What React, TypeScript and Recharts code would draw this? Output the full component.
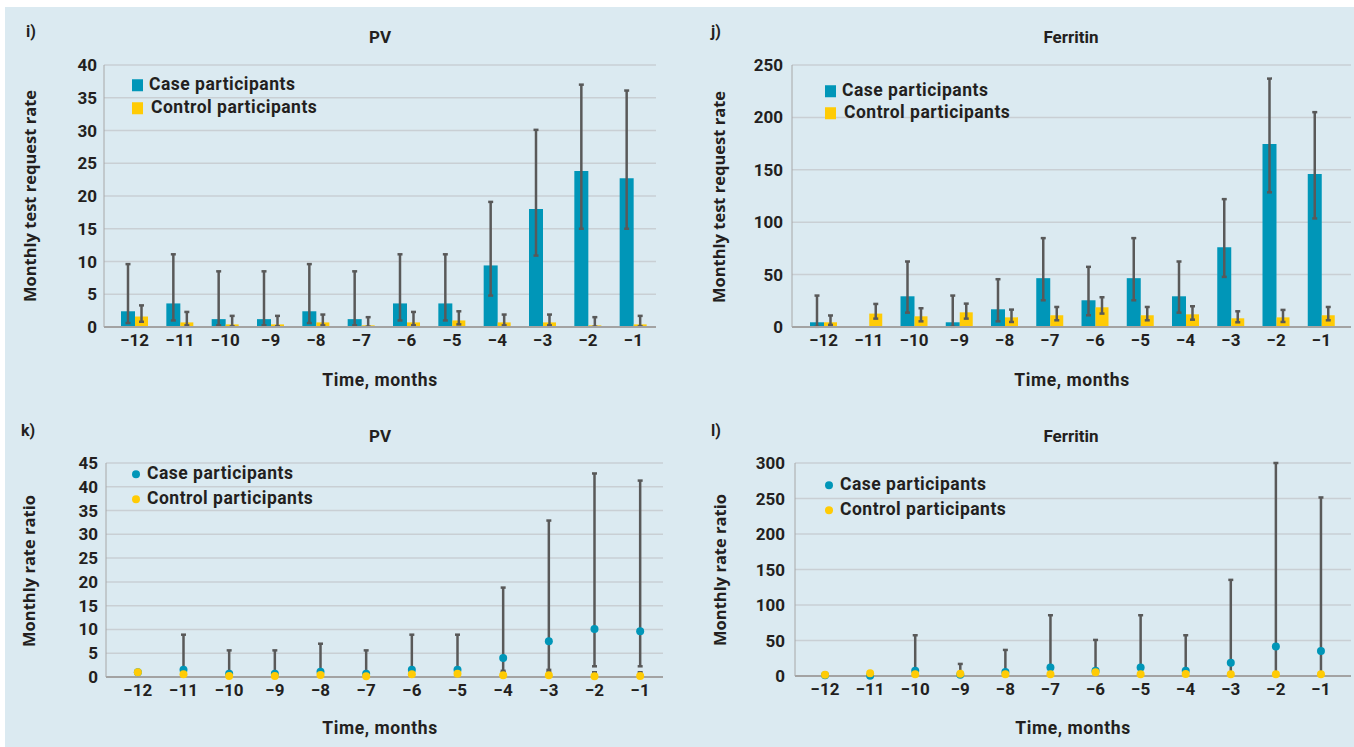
import React from 'react';
import { BarChart, Bar, ComposedChart, Line, XAxis, YAxis, CartesianGrid, ErrorBar } from 'recharts';

// months before diagnosis
const months = ['−12', '−11', '−10', '−9', '−8', '−7', '−6', '−5', '−4', '−3', '−2', '−1'];

// i) PV monthly test request rate
const pvRateCase = [2.4, 3.6, 1.2, 1.2, 2.4, 1.2, 3.6, 3.6, 9.4, 18.0, 23.8, 22.7];
const pvRateCaseLow = [0.6, 1.0, 0.25, 0.25, 0.6, 0.25, 1.0, 1.0, 4.8, 10.9, 15.0, 15.0];
const pvRateCaseHigh = [9.6, 11.1, 8.5, 8.5, 9.6, 8.5, 11.1, 11.1, 19.1, 30.1, 37.0, 36.1];
const pvRateControl = [1.6, 0.7, 0.4, 0.4, 0.7, 0.25, 0.7, 1.0, 0.7, 0.7, 0.25, 0.4];
const pvRateControlLow = [0.8, 0.25, 0.1, 0.1, 0.25, 0.05, 0.25, 0.4, 0.25, 0.25, 0.05, 0.1];
const pvRateControlHigh = [3.3, 2.3, 1.7, 1.7, 1.9, 1.5, 2.3, 2.4, 1.9, 1.9, 1.5, 1.7];

// j) Ferritin monthly test request rate
const ferRateCase = [4.5, 0, 29.3, 4.5, 16.9, 46.6, 25.5, 46.6, 29.3, 76.2, 174.7, 146];
const ferRateCaseLow = [0.2, null, 13.7, 0.2, 5.4, 25.5, 11.2, 25.5, 13.7, 47.8, 128.5, 103.6];
const ferRateCaseHigh = [30, null, 62.5, 30, 45.6, 84.8, 57.4, 84.8, 62.5, 122, 237, 205];
const ferRateControl = [4.5, 12.8, 10.2, 14, 9.2, 11.2, 18.8, 11.2, 12.1, 8.3, 9.2, 11.2];
const ferRateControlLow = [2, 8, 5.4, 8, 4.8, 6.4, 12.8, 6.4, 7, 4.5, 4.8, 6.4];
const ferRateControlHigh = [11, 22, 17.9, 22.3, 16.6, 19.1, 28.4, 19.1, 19.8, 15, 16.3, 19.1];

// k) PV monthly rate ratio
const pvRatioCase = [1.0, 1.55, 0.7, 0.7, 1.1, 0.7, 1.55, 1.55, 4.0, 7.5, 10.1, 9.6];
const pvRatioCaseLow = [null, 0.3, 0.1, 0.1, 0.2, 0.1, 0.3, 0.3, 1.3, 1.5, 2.25, 2.25];
const pvRatioCaseHigh = [null, 8.9, 5.6, 5.6, 7.0, 5.6, 8.9, 8.9, 18.8, 32.9, 42.8, 41.3];
const pvRatioControl = [1.0, 0.56, 0.2, 0.2, 0.4, 0.15, 0.56, 0.7, 0.35, 0.35, 0.15, 0.2];
const pvRatioControlLow = [null, 0.1, 0.05, 0.05, 0.1, 0.03, 0.1, 0.2, 0.1, 0.1, 0.03, 0.05];
const pvRatioControlHigh = [null, 1.2, 0.8, 0.8, 1.0, 0.7, 1.2, 1.4, 1.0, 1.0, 1.0, 1.0];

// l) Ferritin monthly rate ratio
const ferRatioCase = [1.0, 0.3, 7.5, 1.9, 5.6, 11.8, 7.5, 11.8, 7.5, 18.8, 41.4, 35.3];
const ferRatioCaseLow = [null, null, 0.5, 0.3, 0.5, 1.0, 0.8, 1.0, 0.8, 1.5, 4, 3];
const ferRatioCaseHigh = [null, null, 57.4, 17, 36.7, 85.6, 50.8, 85.6, 57.4, 135.4, 300, 251.5];
const ferRatioControl = [1.9, 3.8, 2.4, 3.3, 2.4, 2.4, 5.2, 2.4, 2.8, 2.4, 2.4, 2.4];

const ticksI = [0, 5, 10, 15, 20, 25, 30, 35, 40];
const ticksJ = [0, 50, 100, 150, 200, 250];
const ticksK = [0, 5, 10, 15, 20, 25, 30, 35, 40, 45];
const ticksL = [0, 50, 100, 150, 200, 250, 300];

const TEAL = '#0096b8';
const YELLOW = '#ffcb05';
const ERR = '#595959';
const BG = '#dbeaf1';
const GRID = '#c9cfd4';
const TEXT = '#231f20';
const FONT = 'Roboto, "DejaVu Sans", sans-serif';
const TITLE_FONT = '"Open Sans", "DejaVu Sans", sans-serif';

const err = (v: number, lo: number | null, hi: number | null) =>
  lo == null || hi == null ? null : [v - lo, hi - v];

function build(c: number[], cLo: (number | null)[], cHi: (number | null)[], k: number[], kLo?: (number | null)[], kHi?: (number | null)[]) {
  return months.map((m, i) => ({
    month: m,
    case: c[i],
    control: k[i],
    caseErr: err(c[i], cLo[i], cHi[i]),
    controlErr: kLo && kHi ? err(k[i], kLo[i], kHi[i]) : null,
  }));
}

const dataI = build(pvRateCase, pvRateCaseLow, pvRateCaseHigh, pvRateControl, pvRateControlLow, pvRateControlHigh);
const dataJ = build(ferRateCase, ferRateCaseLow, ferRateCaseHigh, ferRateControl, ferRateControlLow, ferRateControlHigh);
const dataK = build(pvRatioCase, pvRatioCaseLow, pvRatioCaseHigh, pvRatioControl, pvRatioControlLow, pvRatioControlHigh);
const dataL = build(ferRatioCase, ferRatioCaseLow, ferRatioCaseHigh, ferRatioControl);

const tickStyle = { fontSize: 17, fontWeight: 700, fill: TEXT, fontFamily: FONT };

function Txt({ x, y, children, size = 16, family = FONT, rotate = false, spacing = 0 }: any) {
  return (
    <div
      style={{
        position: 'absolute',
        left: x,
        top: y,
        transform: `translate(-50%, -50%)${rotate ? ' rotate(-90deg)' : ''}`,
        fontSize: size,
        fontWeight: 700,
        fontFamily: family,
        letterSpacing: spacing,
        color: TEXT,
        whiteSpace: 'nowrap',
        lineHeight: 1,
      }}
    >
      {children}
    </div>
  );
}

function LegendItems({ x, y1, y2, dot, indent = 0 }: any) {
  const mark = (color: string) =>
    dot ? (
      <span style={{ display: 'inline-block', width: 8, height: 8, borderRadius: 4, background: color }} />
    ) : (
      <span style={{ display: 'inline-block', width: 11, height: 12, background: color }} />
    );
  const row = (top: number, color: string, label: string, gap: number) => (
    <div style={{ position: 'absolute', left: x, top: top, transform: 'translateY(-50%)', display: 'flex', alignItems: 'center', whiteSpace: 'nowrap' }}>
      {mark(color)}
      <span style={{ marginLeft: gap, fontSize: 17.5, letterSpacing: 0.5, fontWeight: 700, fontFamily: FONT, color: TEXT, lineHeight: 1 }}>{label}</span>
    </div>
  );
  return (
    <>
      {row(y1, TEAL, 'Case participants', dot ? 7 : 6)}
      {row(y2, YELLOW, 'Control participants', (dot ? 7 : 6) + indent)}
    </>
  );
}

function RateChart({ data, left, width, axisW, right, ticks, domain, padL, padR, tickGap }: any) {
  return (
    <div style={{ position: 'absolute', left, top: 0 }}>
      <BarChart width={width} height={400} data={data} margin={{ top: 65, right, left: 0, bottom: 43 }} barGap={0}>
        <CartesianGrid vertical={false} stroke={GRID} strokeWidth={1.5} />
        <XAxis
          dataKey="month"
          height={30}
          padding={{ left: padL, right: padR }}
          tickLine={false}
          tickSize={0}
          tickMargin={7}
          axisLine={{ stroke: '#a3a3a3', strokeWidth: 2 }}
          tick={tickStyle}
          interval={0}
        />
        <YAxis
          width={axisW}
          domain={domain}
          ticks={ticks}
          interval={0}
          tickLine={false}
          tickSize={0}
          tickMargin={tickGap}
          axisLine={{ stroke: '#a8a8a8', strokeWidth: 1 }}
          tick={tickStyle}
        />
        <Bar dataKey="case" fill={TEAL} barSize={14} isAnimationActive={false}>
          <ErrorBar dataKey="caseErr" width={2.5} strokeWidth={2.5} stroke={ERR} direction="y" />
        </Bar>
        <Bar dataKey="control" fill={YELLOW} barSize={13} isAnimationActive={false}>
          <ErrorBar dataKey="controlErr" width={2.5} strokeWidth={2.5} stroke={ERR} direction="y" />
        </Bar>
      </BarChart>
    </div>
  );
}

function RatioChart({ data, left, width, axisW, right, ticks, domain, padL, padR, tickGap, bottom }: any) {
  return (
    <div style={{ position: 'absolute', left, top: 400 }}>
      <ComposedChart width={width} height={347} data={data} margin={{ top: 63, right, left: 0, bottom }}>
        <CartesianGrid vertical={false} stroke={GRID} strokeWidth={1.5} />
        <XAxis
          dataKey="month"
          scale="band"
          height={30}
          padding={{ left: padL, right: padR }}
          tickLine={false}
          tickSize={0}
          tickMargin={7}
          axisLine={{ stroke: '#a3a3a3', strokeWidth: 2 }}
          tick={tickStyle}
          interval={0}
        />
        <YAxis
          width={axisW}
          domain={domain}
          ticks={ticks}
          interval={0}
          tickLine={false}
          tickSize={0}
          tickMargin={tickGap}
          axisLine={{ stroke: '#a8a8a8', strokeWidth: 1 }}
          tick={tickStyle}
        />
        <Line dataKey="case" stroke="none" strokeWidth={0} dot={{ r: 4, fill: TEAL, stroke: 'none' }} activeDot={false} isAnimationActive={false}>
          <ErrorBar dataKey="caseErr" width={2.5} strokeWidth={2.5} stroke={ERR} direction="y" />
        </Line>
        <Line dataKey="control" stroke="none" strokeWidth={0} dot={{ r: 4, fill: YELLOW, stroke: 'none' }} activeDot={false} isAnimationActive={false}>
          <ErrorBar dataKey="controlErr" width={2.5} strokeWidth={2.5} stroke={ERR} direction="y" />
        </Line>
      </ComposedChart>
    </div>
  );
}

export default function App() {
  return (
    <div style={{ position: 'absolute', left: 0, top: 0, width: 1354, height: 747, background: '#fff', overflow: 'hidden' }}>
      <div style={{ position: 'absolute', left: 5, top: 7, width: 1349, height: 740, background: BG }} />

      <RateChart data={dataI} left={0} width={677} axisW={104} right={21} ticks={ticksI} domain={[0, 40]} padL={8} padR={0} tickGap={7} />
      <RateChart data={dataJ} left={677} width={677} axisW={115} right={3} ticks={ticksJ} domain={[0, 250]} padL={9} padR={7} tickGap={9} />
      <RatioChart data={dataK} left={0} width={677} axisW={106} right={14} ticks={ticksK} domain={[0, 45]} padL={9} padR={0} tickGap={8} bottom={40} />
      <RatioChart data={dataL} left={677} width={677} axisW={118} right={3} ticks={ticksL} domain={[0, 300]} padL={7.5} padR={7.5} tickGap={10} bottom={41} />

      <Txt x={31} y={32} size={16}>i)</Txt>
      <Txt x={716} y={32} size={16}>j)</Txt>
      <Txt x={28} y={431} size={16}>k)</Txt>
      <Txt x={716} y={431} size={16}>l)</Txt>

      <Txt x={380} y={37} size={17}>PV</Txt>
      <Txt x={1071} y={37} size={17}>Ferritin</Txt>
      <Txt x={380} y={436} size={17}>PV</Txt>
      <Txt x={1071} y={436} size={17}>Ferritin</Txt>

      <Txt x={30} y={196} size={16.5} family={TITLE_FONT} rotate>Monthly test request rate</Txt>
      <Txt x={719} y={197} size={16.5} family={TITLE_FONT} rotate>Monthly test request rate</Txt>
      <Txt x={29} y={571} size={16.5} family={TITLE_FONT} rotate>Monthly rate ratio</Txt>
      <Txt x={720} y={570} size={16.5} family={TITLE_FONT} rotate>Monthly rate ratio</Txt>

      <Txt x={380} y={381} size={17.5} spacing={0.6}>Time, months</Txt>
      <Txt x={1072} y={381} size={17.5} spacing={0.6}>Time, months</Txt>
      <Txt x={380} y={729} size={17.5} spacing={0.6}>Time, months</Txt>
      <Txt x={1073} y={729} size={17.5} spacing={0.6}>Time, months</Txt>

      <LegendItems x={132} y1={85} y2={108} indent={2} />
      <LegendItems x={825} y1={91} y2={113} indent={2} />
      <LegendItems x={132} y1={474} y2={499} dot />
      <LegendItems x={825} y1={485} y2={510} dot />
    </div>
  );
}
